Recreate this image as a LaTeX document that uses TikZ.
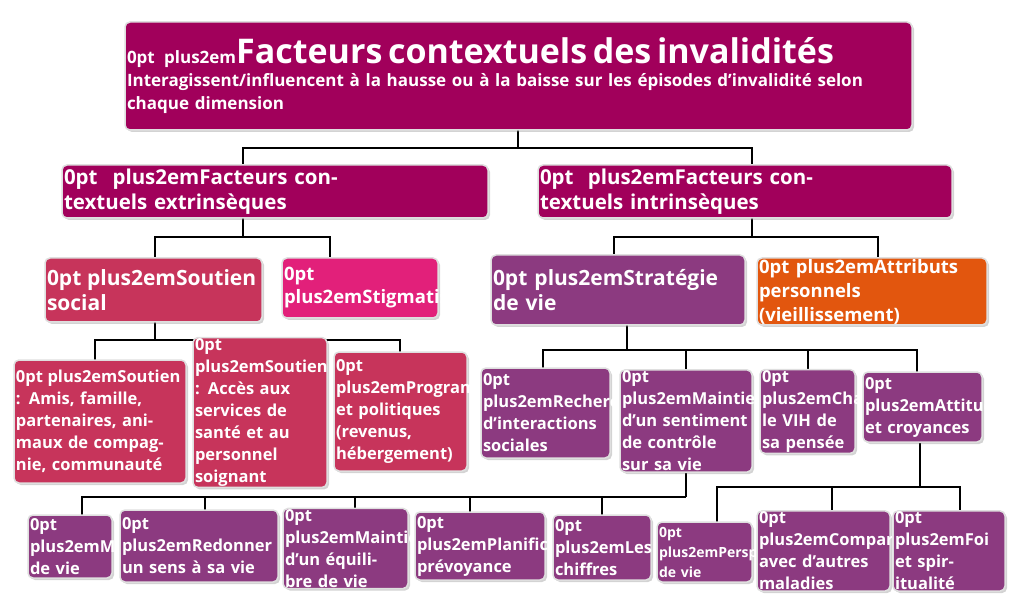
\documentclass[tikz,border=0pt]{standalone}
\usepackage{fontspec}
\setmainfont{Open Sans}
\usetikzlibrary{shadows}
\definecolor{cTop}{HTML}{A1005B}
\definecolor{cSoc}{HTML}{C7345B}
\definecolor{cStig}{HTML}{E2207A}
\definecolor{cStr}{HTML}{8C3A80}
\definecolor{cAtt}{HTML}{E2560E}
\begin{document}
\begin{tikzpicture}[x=1pt,y=-1pt,
  bx/.style={draw=gray!25,line width=1.5pt,rounded corners=5pt,text=white,align=center,inner sep=1pt,drop shadow={opacity=0.35,shadow xshift=2pt,shadow yshift=-2pt}},
  ln/.style={line width=2.2pt,black}]
\useasboundingbox (0,0) rectangle (1030,601);
\long\def\B(#1,#2,#3,#4,#5,#6,#7,#8,#9){\node[bx,fill=#6,minimum width=#3-#1,minimum height=#4-#2,text width=#3-#1-4,font=\bfseries\fontsize{#7}{#8}\selectfont\hyphenpenalty=10000] (#5) at ({(#1+#3)/2},{(#2+#4)/2}) {#9};}
% connectors
\draw[ln] (518,130)--(518,148) (243,165)--(243,148)--(752,148)--(752,165);
\draw[ln] (243,218)--(243,237) (155,258)--(155,237)--(330,237)--(330,258);
\draw[ln] (752,218)--(752,237) (614,255)--(614,237)--(878,237)--(878,258);
\draw[ln] (155,322)--(155,340) (95,360)--(95,340)--(400,340)--(400,352) (260,340)--(260,352);
\draw[ln] (627,325)--(627,350) (543,368)--(543,350)--(917,350)--(917,372) (686,350)--(686,372) (808,350)--(808,372);
\draw[ln] (686,470)--(686,497) (82,515)--(82,497)--(686,497) (205,497)--(205,510) (355,497)--(355,512) (470,497)--(470,512) (602,497)--(602,515);
\draw[ln] (920,442)--(920,487) (717,522)--(717,487)--(960,487)--(960,522) (832,487)--(832,517);
% boxes
\B(125,22,912,130,top,cTop,17,23,{{\fontsize{34}{40}\selectfont Facteurs contextuels des invalidités\par}Interagissent/influencent à la hausse ou à la baisse sur les épisodes d’invalidité selon\\chaque dimension})
\B(62,165,488,218,ext,cTop,20.5,25,{Facteurs contextuels extrinsèques})
\B(538,165,952,218,int,cTop,20.5,25,{Facteurs contextuels intrinsèques})
\B(45,258,262,322,soc,cSoc,21,25,{Soutien social})
\B(282,258,438,318,stig,cStig,18.5,23,{Stigmatisation})
\B(491,255,745,325,str,cStr,21,25,{Stratégie de vie})
\B(757,258,987,325,att,cAtt,18.5,24,{Attributs personnels\\(vieillissement)})
\B(14,360,186,483,s1,cSoc,16.5,22,{Soutien : Amis, famille, partenaires, animaux de compagnie, communauté})
\B(193,352,327,473,s2,cSoc,16.5,22,{Soutien : Accès aux services de santé et au personnel soignant})
\B(334,352,467,471,s3,cSoc,16.5,22,{Programmes et politiques (revenus, hébergement)})
\B(481,368,610,458,t1,cStr,16.5,22,{Recherche d’interactions sociales})
\B(620,372,752,470,t2,cStr,16.5,22,{Maintien d’un sentiment de contrôle sur sa vie})
\B(760,372,855,451,t3,cStr,16.5,22,{Chasser le VIH de sa pensée})
\B(863,372,982,442,t4,cStr,16.5,22,{Attitudes et croyances})
\B(28,515,112,578,b1,cStr,16.5,22,{Mode de vie})
\B(120,510,278,582,b2,cStr,16.5,22,{Redonner un sens à sa vie})
\B(283,512,408,585,b3,cStr,16.5,22,{Maintien d’un équilibre de vie})
\B(415,512,545,580,b4,cStr,16.5,22,{Planification, prévoyance})
\B(553,515,651,580,b5,cStr,16.5,22,{Les chiffres})
\B(657,522,752,582,c1,cStr,14,20,{Perspectives de vie})
\B(757,517,890,585,c2,cStr,16.5,22,{Comparaisons avec d’autres maladies})
\B(893,522,1005,580,c3,cStr,16.5,22,{Foi et spiritualité})
\end{tikzpicture}
\end{document}
